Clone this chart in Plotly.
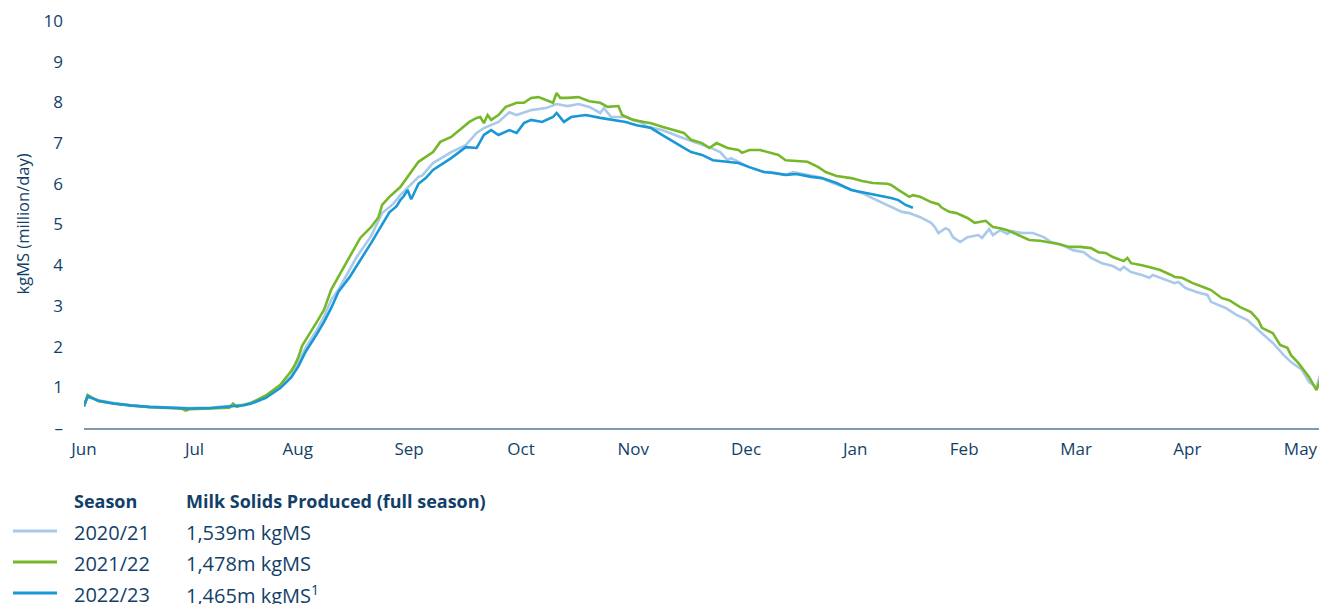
import plotly.graph_objects as go

# ---------------- data (day of season from 1 June, kgMS million/day) ----------------
month_labels = ["Jun", "Jul", "Aug", "Sep", "Oct", "Nov", "Dec", "Jan", "Feb", "Mar", "Apr", "May"]
month_positions = [0, 30.4, 58.8, 89.4, 120.2, 151.1, 182.1, 212.1, 242.1, 272.9, 303.5, 334.6]

y_tick_vals = [0, 1, 2, 3, 4, 5, 6, 7, 8, 9, 10]
y_tick_text = ["–", "1", "2", "3", "4", "5", "6", "7", "8", "9", "10"]

season_names = ["2020/21", "2021/22", "2022/23"]
season_totals = ["1,539m kgMS", "1,478m kgMS", "1,465m kgMS<sup>1</sup>"]
season_colors = ["#a9c9ea", "#76b82a", "#1a97d5"]

days_2021 = [0, 1, 2, 4, 8, 13, 18, 26, 29, 35, 40, 44, 46, 50, 54, 57, 59, 61, 64, 66,
             68, 70, 75, 79, 82, 85, 87, 92, 93, 96, 101, 105, 108, 110, 114, 117, 119, 123, 127, 130,
             133, 136, 139, 142, 143, 145, 149, 153, 155, 159, 164, 169, 172, 175, 177, 178, 180, 183, 187, 189,
             193, 195, 199, 202, 206, 210, 214, 218, 222, 225, 227, 230, 233, 234, 235, 237, 238, 239, 241, 243,
             246, 247, 249, 250, 252, 254, 255, 258, 261, 264, 266, 269, 272, 275, 277, 280, 283, 285, 286, 288,
             291, 293, 294, 297, 300, 301, 303, 306, 309, 310, 312, 314, 317, 320, 323, 325, 327, 330, 332, 335,
             337, 339, 340]
vals_2021 = [0.55, 0.76, 0.74, 0.68, 0.62, 0.56, 0.52, 0.50, 0.49, 0.50, 0.53, 0.57, 0.60, 0.76, 1.00, 1.28, 1.62, 1.98, 2.40, 2.73,
             3.15, 3.40, 4.20, 4.72, 5.28, 5.50, 5.72, 6.17, 6.20, 6.51, 6.78, 6.95, 7.25, 7.37, 7.52, 7.76, 7.69, 7.81, 7.86, 7.96,
             7.91, 7.96, 7.89, 7.74, 7.86, 7.64, 7.64, 7.52, 7.40, 7.32, 7.15, 7.00, 6.90, 6.78, 6.58, 6.63, 6.54, 6.41, 6.29, 6.29,
             6.22, 6.29, 6.22, 6.17, 6.02, 5.90, 5.77, 5.60, 5.43, 5.31, 5.28, 5.18, 5.04, 4.94, 4.79, 4.91, 4.86, 4.69, 4.57, 4.69,
             4.74, 4.67, 4.89, 4.74, 4.86, 4.77, 4.84, 4.79, 4.79, 4.69, 4.57, 4.50, 4.37, 4.32, 4.18, 4.05, 3.98, 3.88, 3.96, 3.83,
             3.76, 3.69, 3.76, 3.66, 3.56, 3.59, 3.44, 3.34, 3.27, 3.10, 3.02, 2.95, 2.78, 2.65, 2.41, 2.24, 2.09, 1.79, 1.62, 1.43,
             1.13, 1.00, 1.30]

days_2122 = [0, 1, 2, 4, 8, 13, 18, 26, 27, 28, 29, 35, 40, 41, 42, 46, 50, 54, 57, 58,
             59, 60, 62, 64, 66, 68, 71, 74, 76, 79, 81, 82, 84, 87, 90, 92, 96, 98, 101, 104,
             106, 108, 109, 110, 111, 112, 114, 116, 119, 121, 123, 125, 129, 130, 131, 133, 136, 139, 142, 144,
             147, 148, 151, 154, 156, 159, 162, 165, 167, 170, 172, 174, 177, 180, 181, 183, 186, 189, 191, 193,
             196, 199, 202, 204, 207, 211, 214, 217, 221, 222, 224, 227, 228, 230, 233, 235, 236, 238, 240, 243,
             245, 246, 248, 250, 252, 254, 255, 257, 260, 263, 266, 268, 271, 274, 277, 279, 281, 283, 286, 287,
             288, 291, 294, 296, 299, 300, 302, 305, 308, 310, 313, 315, 318, 321, 323, 324, 327, 329, 331, 332,
             334, 337, 339, 340]
vals_2122 = [0.52, 0.81, 0.76, 0.66, 0.60, 0.55, 0.51, 0.48, 0.47, 0.43, 0.46, 0.48, 0.50, 0.60, 0.52, 0.62, 0.80, 1.06, 1.40, 1.55,
             1.75, 2.02, 2.30, 2.60, 2.90, 3.40, 3.88, 4.37, 4.67, 4.94, 5.18, 5.48, 5.68, 5.92, 6.30, 6.54, 6.78, 7.03, 7.15, 7.37,
             7.52, 7.62, 7.64, 7.49, 7.69, 7.57, 7.69, 7.89, 7.99, 7.99, 8.11, 8.13, 7.99, 8.23, 8.11, 8.11, 8.13, 8.03, 7.99, 7.89,
             7.91, 7.69, 7.57, 7.52, 7.49, 7.40, 7.32, 7.25, 7.08, 7.00, 6.88, 7.00, 6.88, 6.83, 6.76, 6.83, 6.83, 6.76, 6.71, 6.58,
             6.56, 6.54, 6.41, 6.29, 6.19, 6.14, 6.07, 6.02, 6.00, 5.97, 5.85, 5.68, 5.72, 5.68, 5.55, 5.50, 5.41, 5.31, 5.28, 5.16,
             5.04, 5.06, 5.09, 4.94, 4.91, 4.86, 4.82, 4.74, 4.62, 4.60, 4.55, 4.52, 4.45, 4.45, 4.42, 4.32, 4.30, 4.20, 4.10, 4.18,
             4.05, 4.00, 3.93, 3.88, 3.76, 3.71, 3.69, 3.56, 3.46, 3.39, 3.19, 3.14, 2.97, 2.85, 2.65, 2.46, 2.33, 2.04, 1.97, 1.79,
             1.60, 1.25, 0.93, 1.18]

days_2223 = [0, 1, 2, 4, 8, 13, 18, 26, 29, 35, 40, 44, 46, 50, 54, 57, 59, 61, 64, 66,
             68, 70, 73, 75, 77, 79, 81, 84, 86, 87, 88, 89, 90, 92, 94, 96, 101, 105, 108, 110,
             112, 114, 117, 119, 121, 123, 126, 129, 130, 132, 134, 138, 142, 145, 149, 152, 154, 156, 159, 162,
             165, 167, 170, 173, 177, 180, 183, 187, 189, 193, 196, 200, 203, 207, 211, 214, 218, 222, 224, 226,
             228]
vals_2223 = [0.55, 0.78, 0.74, 0.67, 0.60, 0.55, 0.52, 0.50, 0.48, 0.49, 0.52, 0.56, 0.60, 0.74, 0.98, 1.24, 1.52, 1.88, 2.30, 2.60,
             2.95, 3.35, 3.70, 3.98, 4.25, 4.55, 4.85, 5.30, 5.45, 5.60, 5.70, 5.85, 5.62, 6.00, 6.14, 6.34, 6.63, 6.90, 6.88, 7.20,
             7.32, 7.20, 7.32, 7.25, 7.49, 7.57, 7.52, 7.64, 7.74, 7.52, 7.64, 7.69, 7.62, 7.57, 7.52, 7.44, 7.40, 7.37, 7.20, 7.03,
             6.88, 6.78, 6.71, 6.58, 6.54, 6.51, 6.41, 6.29, 6.27, 6.22, 6.24, 6.17, 6.14, 6.02, 5.85, 5.80, 5.72, 5.65, 5.60, 5.48,
             5.41]

# ---------------- figure ----------------
TEXT = "#123f69"
FONT = "Open Sans"
W, H = 1319, 604
ML, MR, MT, MB = 84, 0, 21, 176
PW, PH = W - ML - MR, H - MT - MB


def px_x(px):
    """screen x pixel -> paper coordinate"""
    return (px - ML) / PW


def px_y(py):
    """screen y pixel -> paper coordinate"""
    return (H - MB - py) / PH


fig = go.Figure()
series = [(days_2021, vals_2021), (days_2122, vals_2122), (days_2223, vals_2223)]
for (d, v), name, col in zip(series, season_names, season_colors):
    fig.add_trace(go.Scatter(x=d, y=v, mode="lines", name=name,
                             line=dict(color=col, width=2.6), showlegend=False,
                             hoverinfo="skip"))

fig.update_layout(
    width=W, height=H,
    margin=dict(l=ML, r=MR, t=MT, b=MB, pad=0),
    paper_bgcolor="white", plot_bgcolor="white",
    font=dict(family=FONT, color=TEXT, size=17),
    xaxis=dict(range=[0, 339.7], tickmode="array", tickvals=month_positions, ticktext=month_labels,
               showgrid=False, zeroline=False, showline=True, linecolor="#7f99af", linewidth=2,
               ticks="", ticklabelstandoff=5, tickfont=dict(size=17, color=TEXT)),
    yaxis=dict(range=[0, 10], tickmode="array", tickvals=y_tick_vals, ticktext=y_tick_text,
               showgrid=False, zeroline=False, showline=False, ticks="",
               ticklabelstandoff=20, tickfont=dict(size=17, color=TEXT)),
)

annotations = [
    dict(text="kgMS (million/day)", x=px_x(22), y=0.5, xref="paper", yref="paper",
         textangle=-90, showarrow=False, xanchor="center", yanchor="middle",
         font=dict(size=16.5, color=TEXT)),
    dict(text="<b>Season</b>", x=px_x(72), y=px_y(501), xref="paper", yref="paper",
         showarrow=False, xanchor="left", yanchor="middle", font=dict(size=18, color=TEXT)),
    dict(text="<b>Milk Solids Produced (full season)</b>", x=px_x(184), y=px_y(501), xref="paper",
         yref="paper", showarrow=False, xanchor="left", yanchor="middle", font=dict(size=18, color=TEXT)),
]
row_y = [532, 563, 594]
shapes = []
for name, total, col, ry in zip(season_names, season_totals, season_colors, row_y):
    annotations.append(dict(text=name, x=px_x(72), y=px_y(ry), xref="paper", yref="paper",
                            showarrow=False, xanchor="left", yanchor="middle",
                            font=dict(size=20, color=TEXT)))
    annotations.append(dict(text=total, x=px_x(184), y=px_y(ry), xref="paper", yref="paper",
                            showarrow=False, xanchor="left", yanchor="middle",
                            font=dict(size=20, color=TEXT)))
    shapes.append(dict(type="line", xref="paper", yref="paper",
                       x0=px_x(13), x1=px_x(57), y0=px_y(ry - 1), y1=px_y(ry - 1),
                       line=dict(color=col, width=3)))

fig.update_layout(annotations=annotations, shapes=shapes)

# remove the default page margin so the 1319x604 figure fills the window exactly
page_fix = ("document.documentElement.style.overflow='hidden';"
            "document.body.style.margin='0';document.body.style.overflow='hidden';")
fig.write_html("out.html", post_script=page_fix, config={"displayModeBar": False})
